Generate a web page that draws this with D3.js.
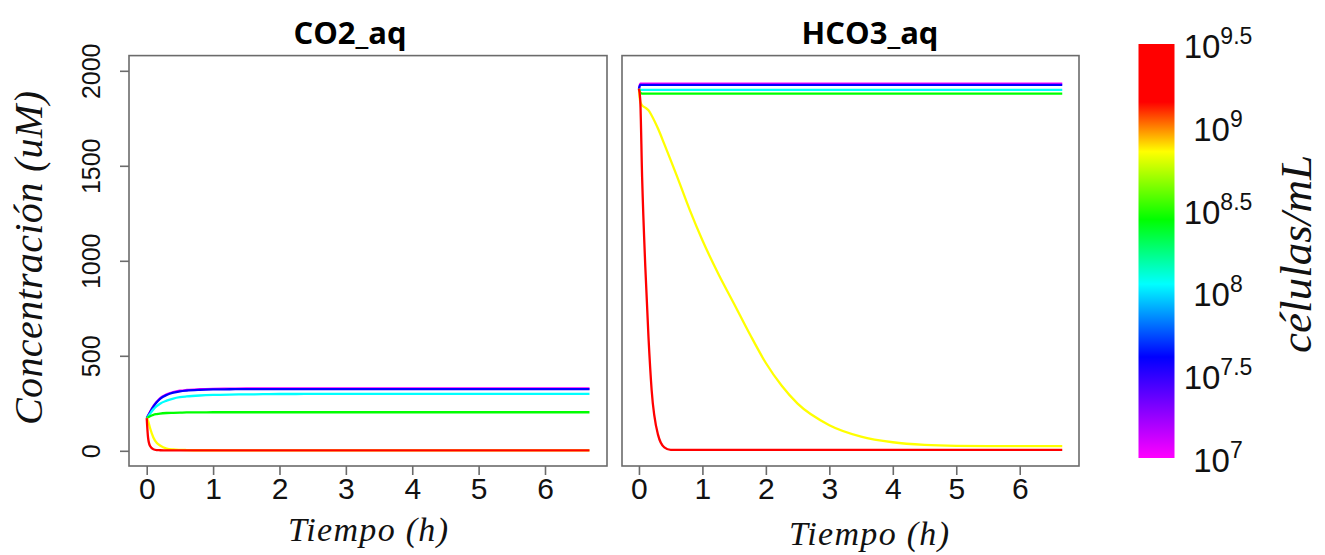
<!DOCTYPE html>
<html>
<head>
<meta charset="utf-8">
<script src="https://cdn.jsdelivr.net/npm/d3@7"></script>
<style>
  body { margin: 0; background: #fff; }
  svg { display: block; }
</style>
</head>
<body>
<svg id="chart" width="1325" height="555"></svg>
<script>
// Time axis (hours) shared by every simulated series
const timeH = [0, 0.02, 0.05, 0.1, 0.15, 0.2, 0.3, 0.4, 0.5, 0.6, 0.8, 1.0, 1.25, 1.5, 1.75, 2.0, 2.25, 2.5, 3.0, 3.5, 4.0, 4.5, 5.0, 5.5, 6.0, 6.67];

// Cell densities (log10 cells/mL) and the colour of each run
const logDensity = [7, 7.5, 8, 8.5, 9, 9.5];
const runColors = ["#ff00ff", "#0000ff", "#00ffff", "#00ff00", "#ffff00", "#ff0000"];

// Dissolved CO2 (uM), one array per density
const co2_7  = [172,185,205,235,258,276,297,309,316,320,324,326,327,328,328,328,328,328,328,328,328,328,328,328,328,328];
const co2_75 = [172,184,203,232,255,273,294,306,313,317,321,323,324,325,325,325,325,325,325,325,325,325,325,325,325,325];
const co2_8  = [172,180,195,218,235,248,264,275,282,286,291,294,296,297,298,299,299,300,300,300,300,300,300,300,300,300];
const co2_85 = [172,176,182,189,193,196,199,200,201,202,202,203,203,203,203,203,203,203,203,203,203,203,203,203,203,203];
const co2_9  = [172,158,120,70,42,28,12,7,5,4,3,3,2,2,2,2,2,2,2,2,2,2,2,2,2,2];
const co2_95 = [172,70,25,8,4,3,2,2,2,2,2,2,2,2,2,2,2,2,2,2,2,2,2,2,2,2];

// Bicarbonate (uM), one array per density
const hco3_7  = [1905,1933,1933,1933,1933,1933,1933,1933,1933,1933,1933,1933,1933,1933,1933,1933,1933,1933,1933,1933,1933,1933,1933,1933,1933,1933];
const hco3_75 = [1905,1926,1926,1926,1926,1926,1926,1926,1926,1926,1926,1926,1926,1926,1926,1926,1926,1926,1926,1926,1926,1926,1926,1926,1926,1926];
const hco3_8  = [1905,1900,1900,1900,1900,1900,1900,1900,1900,1900,1900,1900,1900,1900,1900,1900,1900,1900,1900,1900,1900,1900,1900,1900,1900,1900];
const hco3_85 = [1905,1885,1880,1880,1880,1880,1880,1880,1880,1880,1880,1880,1880,1880,1880,1880,1880,1880,1880,1880,1880,1880,1880,1880,1880,1880];
const hco3_9  = [1905,1838,1818,1806,1792,1765,1696,1614,1530,1444,1268,1108,932,773,612,462,342,248,135,75,45,31,26,25,25,25];
const hco3_95 = [1905,1850,1440,970,600,320,85,18,5,5,5,5,5,5,5,5,5,5,5,5,5,5,5,5,5,5];

// Axis ticks
const timeTicks = [0, 1, 2, 3, 4, 5, 6];
const concTicks = [0, 500, 1000, 1500, 2000];

// Colour bar: gradient stops (log10 density -> colour) and labelled exponents
const barStops = [
  [7.0, "#ff00ff"],
  [7.61, "#0000ff"],
  [8.05, "#00ffff"],
  [8.44, "#00ff00"],
  [8.85, "#ffff00"],
  [9.15, "#ff0000"],
  [9.5, "#ff0000"]
];
const barTicks = [7, 7.5, 8, 8.5, 9, 9.5];

const svg = d3.select("#chart");
const tickFont = "'Liberation Sans', Arial, sans-serif";
const mathFont = "'Liberation Serif', 'Times New Roman', serif";
const axisGray = "#6b6b6b";

const yDomain = [-80, 2080];
const xDomain = [-0.267, 6.934];

const panels = [
  { title: "CO2_aq", series: [co2_7, co2_75, co2_8, co2_85, co2_9, co2_95],
    left: 129, right: 607, yAxis: true, titleX: 350, xLabelX: 368, xLabelY: 541 },
  { title: "HCO3_aq", series: [hco3_7, hco3_75, hco3_8, hco3_85, hco3_9, hco3_95],
    left: 622, right: 1079, yAxis: false, titleX: 870, xLabelX: 869, xLabelY: 545 }
];
const plotTop = 55.6, plotBottom = 466;

const y = d3.scaleLinear().domain(yDomain).range([plotBottom, plotTop]);

panels.forEach(p => {
  const x = d3.scaleLinear().domain(xDomain).range([p.left, p.right]);
  const g = svg.append("g");

  // curves, lowest density first so the densest run ends on top
  const line = d3.line()
    .x(d => x(d[0]))
    .y(d => y(d[1]))
    .curve(d3.curveMonotoneX);
  p.series.forEach((vals, i) => {
    g.append("path")
      .datum(timeH.map((t, k) => [t, vals[k]]))
      .attr("d", line)
      .attr("fill", "none")
      .attr("stroke", runColors[i])
      .attr("stroke-width", 2.3)
      .attr("stroke-linejoin", "round");
  });

  // frame
  g.append("rect")
    .attr("x", p.left).attr("y", plotTop)
    .attr("width", p.right - p.left).attr("height", plotBottom - plotTop)
    .attr("fill", "none").attr("stroke", axisGray).attr("stroke-width", 1.6);

  // time axis
  const xa = g.append("g").attr("transform", `translate(0,${plotBottom})`)
    .call(d3.axisBottom(x).tickValues(timeTicks).tickFormat(d3.format("d")).tickSize(9).tickPadding(3));
  xa.select(".domain").remove();
  xa.selectAll("line").attr("stroke", axisGray).attr("stroke-width", 1.6);
  xa.selectAll("text").attr("font-family", tickFont).attr("font-size", 30).attr("fill", "#111");

  // concentration axis with labels running along the axis
  if (p.yAxis) {
    const ya = g.append("g").attr("transform", `translate(${p.left},0)`)
      .call(d3.axisLeft(y).tickValues(concTicks).tickFormat(d3.format("d")).tickSize(9));
    ya.select(".domain").remove();
    ya.selectAll("line").attr("stroke", axisGray).attr("stroke-width", 1.6);
    ya.selectAll("text")
      .attr("font-family", tickFont).attr("font-size", 25).attr("fill", "#111")
      .attr("transform", "rotate(-90)")
      .attr("x", 0).attr("y", -29).attr("dy", 0)
      .attr("text-anchor", "middle");
  }

  // panel title
  svg.append("text")
    .attr("x", p.titleX).attr("y", 44)
    .attr("text-anchor", "middle")
    .attr("font-family", "'Open Sans', sans-serif")
    .attr("font-weight", "bold")
    .attr("font-size", 31)
    .attr("fill", "#000")
    .text(p.title);

  // time axis title
  svg.append("text")
    .attr("x", p.xLabelX).attr("y", p.xLabelY)
    .attr("text-anchor", "middle")
    .attr("font-family", mathFont).attr("font-style", "italic")
    .attr("font-size", 34)
    .attr("textLength", 160).attr("lengthAdjust", "spacing")
    .attr("fill", "#111")
    .text("Tiempo (h)");
});

// concentration axis title
svg.append("text")
  .attr("transform", "translate(42,258) rotate(-90)")
  .attr("text-anchor", "middle")
  .attr("font-family", mathFont).attr("font-style", "italic")
  .attr("font-size", 40)
  .attr("textLength", 334).attr("lengthAdjust", "spacing")
  .attr("fill", "#111")
  .text("Concentración (uM)");

// colour bar
const barY = d3.scaleLinear().domain([7, 9.5]).range([458, 44]);
const grad = svg.append("defs").append("linearGradient")
  .attr("id", "densityGradient")
  .attr("x1", 0).attr("y1", 1).attr("x2", 0).attr("y2", 0);
grad.selectAll("stop").data(barStops).join("stop")
  .attr("offset", d => (d[0] - 7) / 2.5)
  .attr("stop-color", d => d[1]);

svg.append("rect")
  .attr("x", 1138.5).attr("y", barY(9.5))
  .attr("width", 36).attr("height", barY(7) - barY(9.5))
  .attr("fill", "url(#densityGradient)");

const barLabels = svg.append("g");
barTicks.forEach(v => {
  const t = barLabels.append("text")
    .attr("x", 1218).attr("y", barY(v) + 14)
    .attr("text-anchor", "middle")
    .attr("font-family", tickFont)
    .attr("fill", "#111");
  t.append("tspan").attr("font-size", 33).text("10");
  t.append("tspan").attr("font-size", 23).attr("dy", -14).text(String(v));
});

svg.append("text")
  .attr("transform", "translate(1311,254) rotate(-90)")
  .attr("text-anchor", "middle")
  .attr("font-family", mathFont).attr("font-style", "italic")
  .attr("font-size", 45)
  .attr("textLength", 198).attr("lengthAdjust", "spacing")
  .attr("fill", "#111")
  .text("células/mL");
</script>
</body>
</html>
